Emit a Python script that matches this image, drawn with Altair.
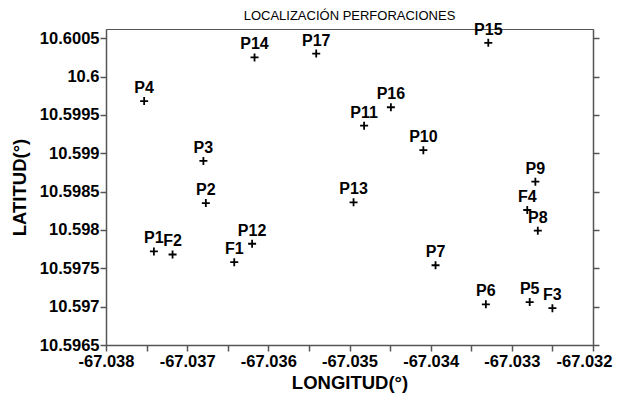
import altair as alt
import pandas as pd

names = ["P1", "F2", "P2", "P3", "P4", "P14", "P17", "F1", "P12", "P13", "P11", "P16",
         "P10", "P7", "P15", "P6", "P5", "F4", "P9", "P8", "F3"]
lon = [-67.03741, -67.03718, -67.03677, -67.03680, -67.03753, -67.03617, -67.03541,
       -67.03642, -67.03620, -67.03495, -67.03482, -67.03449, -67.03409, -67.03394,
       -67.03329, -67.03332, -67.03278, -67.03281, -67.03271, -67.03268, -67.03250]
lat = [10.59772, 10.59768, 10.59835, 10.59890, 10.59968, 10.60025, 10.60030,
       10.59758, 10.59782, 10.59836, 10.59936, 10.59960, 10.59904, 10.59754,
       10.60044, 10.59703, 10.59706, 10.59826, 10.59863, 10.59799, 10.59698]

x_ticks = [-67.038, -67.0375, -67.037, -67.0365, -67.036, -67.0355, -67.035, -67.0345,
           -67.034, -67.0335, -67.033, -67.0325, -67.032]
y_ticks = [10.5965, 10.597, 10.5975, 10.598, 10.5985, 10.599, 10.5995, 10.6, 10.6005]
x_domain = [-67.038, -67.032]
y_domain = [10.5965, 10.60062]
chart_title = "LOCALIZACIÓN PERFORACIONES"

df = pd.DataFrame({"name": names, "lon": lon, "lat": lat})

FONT = "Liberation Sans"
AX = "#555555"
W, H = 487, 316

x_scale = alt.Scale(domain=x_domain, nice=False, zero=False)
y_scale = alt.Scale(domain=y_domain, nice=False, zero=False)

x_enc = alt.X("lon:Q", scale=x_scale,
              axis=alt.Axis(values=x_ticks, title="LONGITUD(°)",
                            labelExpr="round(datum.value*2000) % 2 == 0 ? toString(datum.value) : ''",
                            labelOffset={"condition": {"test": "datum.value > -67.0321", "value": -9},
                                         "value": 0},
                            labelFlush=False, labelOverlap=False, grid=False,
                            tickSize=6, labelPadding=2, titlePadding=4,
                            labelFontSize=16.5, titleFontSize=18.5))

pts = alt.Chart(df).mark_point(
    shape="M-1,0L1,0M0,-1L0,1", size=64, filled=False, color="black",
    strokeWidth=1.8, opacity=1
).encode(
    x=x_enc,
    y=alt.Y("lat:Q", scale=y_scale,
            axis=alt.Axis(values=y_ticks, title="LATITUD(°)", labelExpr="toString(datum.value)",
                          labelFlush=False, labelOverlap=False, grid=False,
                          tickSize=6, labelPadding=1, titlePadding=10,
                          labelFontSize=16.5, titleFontSize=18.5)),
)

right = alt.Chart(df).mark_point(opacity=0).encode(
    x="lon:Q",
    y=alt.Y("lat:Q", scale=y_scale,
            axis=alt.Axis(values=y_ticks, orient="right", labels=False,
                          title=None, grid=False, tickSize=6)),
)

labels = alt.Chart(df).mark_text(
    font=FONT, fontWeight="bold", fontSize=16, dy=-8, baseline="alphabetic",
    align="center", color="black"
).encode(
    x="lon:Q",
    y=alt.Y("lat:Q", scale=y_scale, axis=None),
    text="name:N",
)

title_text = alt.Chart(pd.DataFrame({"t": [chart_title]})).mark_text(
    font=FONT, fontSize=13, fontWeight="normal", color="black",
    align="center", baseline="alphabetic"
).encode(x=alt.value(W / 2), y=alt.value(-9), text="t:N")

chart = alt.layer(pts, right, labels, title_text).resolve_axis(y="independent").properties(
    width=W, height=H,
    autosize=alt.AutoSizeParams(type="none"),
    padding={"left": 98, "top": 21, "right": 20, "bottom": 48},
).configure_view(stroke=AX, strokeWidth=1).configure_axis(
    labelFont=FONT, titleFont=FONT, labelFontWeight="bold", titleFontWeight="bold",
    labelColor="black", titleColor="black", domainColor=AX, tickColor=AX,
    domainWidth=1.5, tickWidth=1.5
)

chart.save("out.html", embed_options={"renderer": "svg", "actions": False})
